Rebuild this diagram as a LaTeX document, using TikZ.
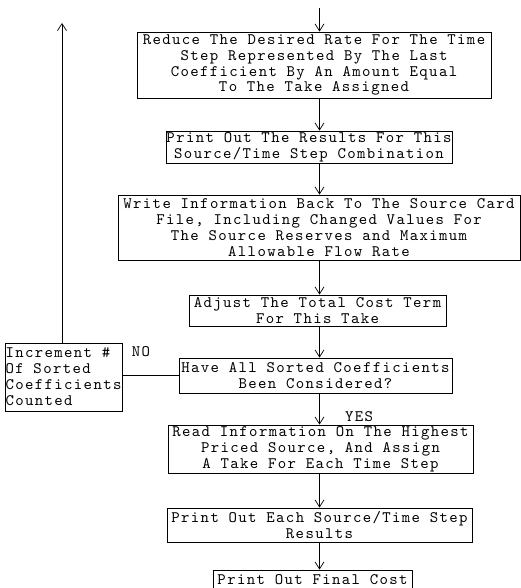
\documentclass[tikz,border=0pt]{standalone}
\usepackage{fontspec}
\newfontfamily\cour{lmmono10-regular.otf}[LetterSpace=8.6]
\usetikzlibrary{arrows.meta}
\begin{document}
\begin{tikzpicture}[x=1pt,y=-1pt,
  every node/.style={font=\cour\fontsize{16pt}{15.9pt}\selectfont},
  box/.style={draw, line width=0.9pt, align=center, inner sep=0.5pt},
  arr/.style={line width=0.9pt, -{Straight Barb[length=7pt,width=9pt,line width=0.7pt]}},
  ln/.style={line width=0.9pt},
  lbl/.style={inner sep=0pt}]
\useasboundingbox (0,0) rectangle (521,588);
\clip (0,0) rectangle (521,588);
\coordinate (ax) at (319.5,0);
\coordinate (top) at (319.5,8);
\node[box, minimum width=354pt, minimum height=66pt] (b1) at (314,65)
  {Reduce The Desired Rate For The Time\\Step Represented By The Last\\Coefficient By An Amount Equal\\To The Take Assigned};
\node[box, minimum width=284pt, minimum height=32pt] (b2) at (309,147)
  {Print Out The Results For This\\Source/Time Step Combination};
\node[box, minimum width=402pt, minimum height=65pt] (b3) at (319,227.5)
  {Write Information Back To The Source Card\\File, Including Changed Values For\\The Source Reserves and Maximum\\Allowable Flow Rate};
\node[box, minimum width=257pt, minimum height=31pt] (b4) at (317.5,310.5)
  {Adjust The Total Cost Term\\For This Take};
\node[box, minimum width=273pt, minimum height=35pt] (b5) at (315.5,375.5)
  {Have All Sorted Coefficients\\Been Considered?};
\node[box, align=left, minimum width=115pt, minimum height=68pt] (inc) at (63.5,377)
  {Increment \#\\Of Sorted\\Coefficients\\Counted};
\node[box, minimum width=305pt, minimum height=48pt] (b6) at (320.5,449)
  {Read Information On The Highest\\Priced Source, And Assign\\A Take For Each Time Step};
\node[box, minimum width=305pt, minimum height=34pt] (b7) at (319.5,525)
  {Print Out Each Source/Time Step\\Results};
\node[box, minimum width=199pt, minimum height=34pt] (b8) at (312.5,587)
  {Print Out Final Cost\\\phantom{X}};
\node[lbl] (no) at (141,352) {NO};
\node[lbl] (yes) at (359,417) {YES};
\coordinate (fb) at (62,23);
\draw[arr] (top) -- (b1.north -| top);
\draw[arr] (b1.south -| ax) -- (b2.north -| ax);
\draw[arr] (b2.south -| ax) -- (b3.north -| ax);
\draw[arr] (b3.south -| ax) -- (b4.north -| ax);
\draw[arr] (b4.south -| ax) -- (b5.north -| ax);
\draw[arr] (b5.south -| ax) -- (b6.north -| ax);
\draw[arr] (b6.south -| ax) -- (b7.north -| ax);
\draw[arr] (b7.south -| ax) -- (b8.north -| ax);
\draw[ln] (b5.west) -- (b5.west -| inc.east);
\draw[arr] (inc.north -| fb) -- (fb);
\end{tikzpicture}
\end{document}
